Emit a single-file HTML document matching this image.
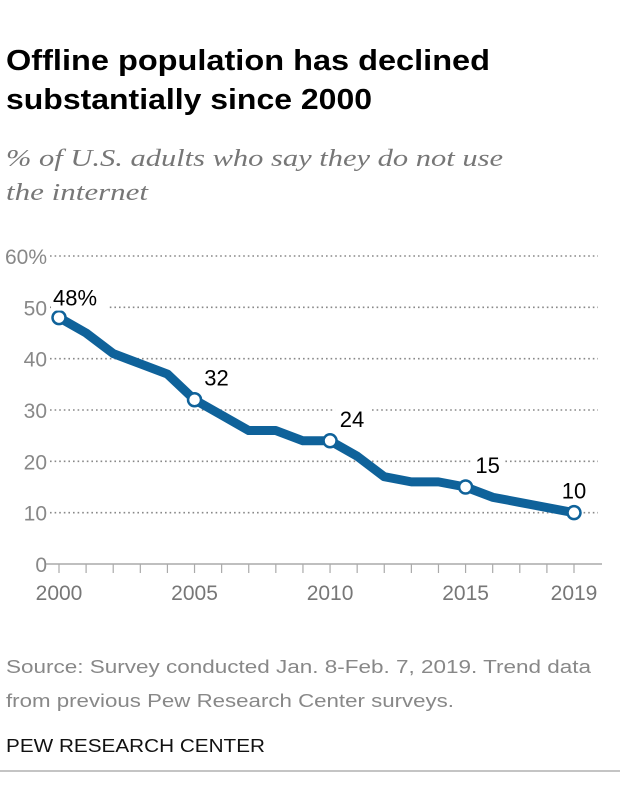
<!DOCTYPE html>
<html><head><meta charset="utf-8">
<style>
html,body{margin:0;padding:0;background:#fff;}
svg{display:block;}
</style></head>
<body>
<svg id="chart" width="620" height="794" viewBox="0 0 620 794" xmlns="http://www.w3.org/2000/svg">
  <text x="6" y="70" font-family="'Liberation Sans',sans-serif" font-weight="bold" font-size="29" fill="#000" textLength="484" lengthAdjust="spacingAndGlyphs">Offline population has declined</text>
  <text x="6" y="109" font-family="'Liberation Sans',sans-serif" font-weight="bold" font-size="29" fill="#000" textLength="366" lengthAdjust="spacingAndGlyphs">substantially since 2000</text>
  <text x="6" y="166" font-family="'Liberation Serif',serif" font-style="italic" font-size="24" fill="#777" textLength="497" lengthAdjust="spacingAndGlyphs">% of U.S. adults who say they do not use</text>
  <text x="6" y="200" font-family="'Liberation Serif',serif" font-style="italic" font-size="24" fill="#777" textLength="142" lengthAdjust="spacingAndGlyphs">the internet</text>
  <g id="grid"></g>
  <g id="axes"></g>
  <g id="series"></g>
  <text x="6" y="673" font-family="'Liberation Sans Narrow','Liberation Sans',sans-serif" font-size="18" fill="#888" textLength="585" lengthAdjust="spacingAndGlyphs">Source: Survey conducted Jan. 8-Feb. 7, 2019. Trend data</text>
  <text x="6" y="707" font-family="'Liberation Sans Narrow','Liberation Sans',sans-serif" font-size="18" fill="#888" textLength="448" lengthAdjust="spacingAndGlyphs">from previous Pew Research Center surveys.</text>
  <text x="6" y="752" font-family="'Liberation Sans Narrow','Liberation Sans',sans-serif" font-size="18" fill="#111" textLength="259" lengthAdjust="spacingAndGlyphs">PEW RESEARCH CENTER</text>
  <line x1="0" y1="771" x2="620" y2="771" stroke="#888" stroke-width="1"/>
</svg>
<script>
const years = [2000,2001,2002,2003,2004,2005,2006,2007,2008,2009,2010,2011,2012,2013,2014,2015,2016,2017,2018,2019];
const offlinePct = [48,45,41,39,37,32,29,26,26,24,24,21,17,16,16,15,13,12,11,10];
const yTicks = [0,10,20,30,40,50,60];
const yTickLabels = ["0","10","20","30","40","50","60%"];
const xTickLabelYears = [2000,2005,2010,2015,2019];
const labeledYears = [2000,2005,2010,2015,2019];
const labeledTexts = ["48%","32","24","15","10"];

const NS="http://www.w3.org/2000/svg";
const X0=59, X1=574, Y0=564, Y1=256;
function xs(yr){return X0+(yr-years[0])*(X1-X0)/(years[years.length-1]-years[0]);}
function ys(v){return Y0-(v-0)*(Y0-Y1)/60;}
function mk(tag,attrs,parent){const e=document.createElementNS(NS,tag);for(const k in attrs)e.setAttribute(k,attrs[k]);parent.appendChild(e);return e;}
const grid=document.getElementById('grid'),axes=document.getElementById('axes'),series=document.getElementById('series');

yTicks.forEach((t,i)=>{
  if(t!==0){
    const l=mk('line',{x1:50,x2:598,y1:ys(t),y2:ys(t),stroke:'#888','stroke-width':1.6,'stroke-dasharray':'1.6,3'},grid);
    
    
  }
  const tx=mk('text',{x:47,y:ys(t)+8,'text-anchor':'end','font-family':"'Liberation Sans',sans-serif",'font-size':21,fill:'#888'},axes);
  tx.textContent=yTickLabels[i];
  
  
});
const ax=mk('line',{x1:46,x2:602,y1:Y0,y2:Y0,stroke:'#aaa','stroke-width':1.5},axes);


years.forEach(yr=>{
  const tk=mk('line',{x1:xs(yr),x2:xs(yr),y1:Y0,y2:Y0+9,stroke:'#aaa','stroke-width':1.2},axes);
  
  
});
xTickLabelYears.forEach(yr=>{
  const tx=mk('text',{x:xs(yr),y:600,'text-anchor':'middle','font-family':"'Liberation Sans',sans-serif",'font-size':21,fill:'#777'},axes);
  tx.textContent=String(yr);
  
  
});
const pts=years.map((yr,i)=>xs(yr)+','+ys(offlinePct[i])).join(' ');
const pl=mk('polyline',{points:pts,fill:'none',stroke:'#0f629a','stroke-width':9,'stroke-linejoin':'round','stroke-linecap':'round'},series);


labeledYears.forEach((yr,i)=>{
  const v=offlinePct[years.indexOf(yr)];
  const c=mk('circle',{cx:xs(yr),cy:ys(v),r:6.5,fill:'#fff',stroke:'#0f629a','stroke-width':2.5},series);
  
  
  const isLast=i===labeledYears.length-1, isFirst=i===0;
  const lx=isFirst?xs(yr)-6:(isLast?xs(yr):xs(yr)+22);
  const ly=isFirst?ys(v)-12:ys(v)-14;
  const anchor=isFirst?'start':'middle';
  const bgW=isFirst?56:34;
  const bg=mk('rect',{x:anchor==='start'?lx-2:lx-bgW/2,y:ly-21,width:bgW,height:26,fill:'#fff'},series);
  
  
  const t=mk('text',{x:lx,y:ly,'text-anchor':anchor,'font-family':"'Liberation Sans',sans-serif",'font-size':22,fill:'#000'},series);
  t.textContent=labeledTexts[i];
  
  
});
</script>
</body></html>
